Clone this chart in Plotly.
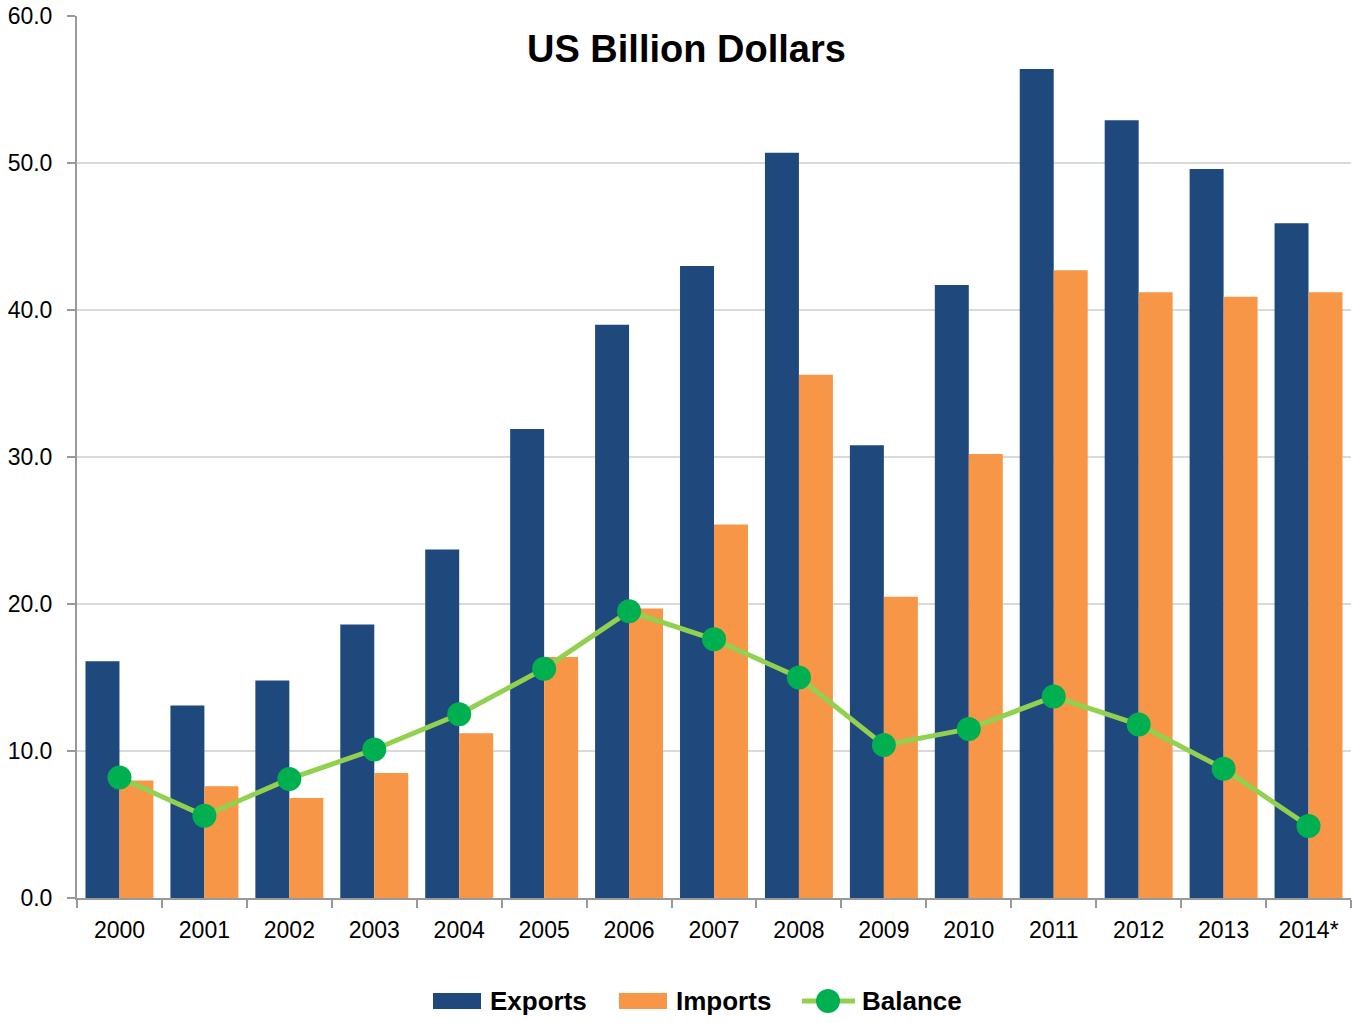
import plotly.graph_objects as go

years = ["2000", "2001", "2002", "2003", "2004", "2005", "2006", "2007",
         "2008", "2009", "2010", "2011", "2012", "2013", "2014*"]
exports = [16.1, 13.1, 14.8, 18.6, 23.7, 31.9, 39.0, 43.0, 50.7, 30.8, 41.7, 56.4, 52.9, 49.6, 45.9]
imports = [8.0, 7.6, 6.8, 8.5, 11.2, 16.4, 19.7, 25.4, 35.6, 20.5, 30.2, 42.7, 41.2, 40.9, 41.2]
balance = [8.2, 5.6, 8.1, 10.1, 12.5, 15.6, 19.5, 17.6, 15.0, 10.4, 11.5, 13.7, 11.8, 8.8, 4.9]

FONT = "Liberation Sans, Arial, sans-serif"
C_EXP, C_IMP, C_LINE, C_MARK = "#1F497D", "#F79646", "#92D050", "#00B050"

L, R, T, B = 77, 2, 16, 125
W, H = 1353, 1023
PW, PH = W - L - R, H - T - B

def px(x):
    return (x - L) / PW

def py(y):
    return (H - B - y) / PH

fig = go.Figure()
fig.add_trace(go.Bar(x=years, y=exports, name="Exports", marker_color=C_EXP, marker_line_width=0))
fig.add_trace(go.Bar(x=years, y=imports, name="Imports", marker_color=C_IMP, marker_line_width=0))
fig.add_trace(go.Scatter(x=years, y=balance, name="Balance", mode="lines+markers",
                         line=dict(color=C_LINE, width=5),
                         marker=dict(color=C_MARK, size=24)))

# custom legend (wide swatches like the reference)
ly = py(1001)
shapes = [
    dict(type="rect", xref="paper", yref="paper", x0=px(433), x1=px(481), y0=py(1009), y1=py(993),
         fillcolor=C_EXP, line_width=0),
    dict(type="rect", xref="paper", yref="paper", x0=px(619), x1=px(667), y0=py(1009), y1=py(993),
         fillcolor=C_IMP, line_width=0),
    dict(type="line", xref="paper", yref="paper", x0=px(802), x1=px(855), y0=ly, y1=ly,
         line=dict(color=C_LINE, width=5)),
    dict(type="circle", xref="paper", yref="paper", xsizemode="pixel", ysizemode="pixel",
         xanchor=px(828), yanchor=ly, x0=-12, x1=12, y0=-12, y1=12,
         fillcolor=C_MARK, line_width=0),
]
legend_ann = [
    dict(text="<b>Exports</b>", x=px(488), y=ly),
    dict(text="<b>Imports</b>", x=px(674), y=ly),
    dict(text="<b>Balance</b>", x=px(860), y=ly),
]
anns = [dict(a, xref="paper", yref="paper", xanchor="left", yanchor="middle", showarrow=False,
             font=dict(size=26, family=FONT, color="black")) for a in legend_ann]
anns.append(dict(text="<b>US Billion Dollars</b>", xref="paper", yref="paper",
                 x=px(686), y=py(49), xanchor="center", yanchor="middle", showarrow=False,
                 font=dict(size=38, family=FONT, color="black")))

fig.update_layout(
    width=W, height=H,
    margin=dict(l=L, r=R, t=T, b=B, autoexpand=False),
    paper_bgcolor="white", plot_bgcolor="white",
    barmode="group", bargap=0.2, bargroupgap=0,
    font=dict(family=FONT, size=23, color="black"),
    showlegend=False,
    shapes=shapes,
    annotations=anns,
)
fig.update_xaxes(range=[-0.5, 14.5], showline=True, linecolor="#999999", linewidth=2,
                 ticks="outside", tickson="boundaries", ticklen=8, tickcolor="#999999",
                 tickwidth=2, showgrid=False, tickfont=dict(size=23), automargin=False,
                 ticklabelstandoff=10)
fig.update_yaxes(range=[0, 60], dtick=10, tickformat=".1f", showline=True,
                 linecolor="#999999", linewidth=2, ticks="outside", ticklen=8,
                 tickcolor="#999999", tickwidth=2, gridcolor="#D9D9D9", gridwidth=1.5,
                 zeroline=False, tickfont=dict(size=23), automargin=False,
                 ticklabelstandoff=10)

fig.write_html("out.html", config={"displayModeBar": False},
               post_script="document.body.style.margin='0';document.body.style.overflow='hidden';")
